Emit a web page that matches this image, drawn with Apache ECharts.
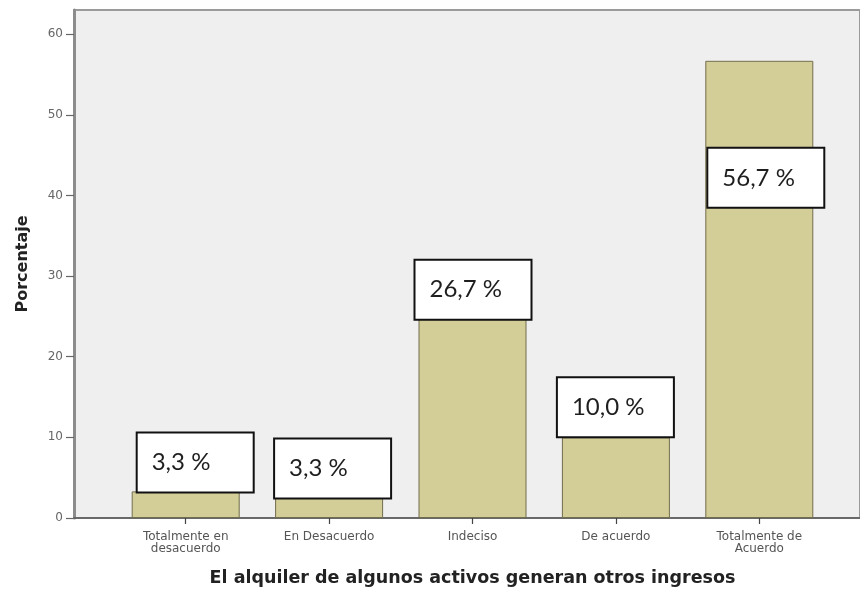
<!DOCTYPE html>
<html>
<head>
<meta charset="utf-8">
<script src="https://cdn.jsdelivr.net/npm/echarts@6/dist/echarts.min.js"></script>
<style>
  html, body { margin: 0; padding: 0; background: #fff; }
  #chart { width: 860px; height: 592px; }
</style>
</head>
<body>
<div id="chart"></div>
<script>
// data
var categories = ['Totalmente en\ndesacuerdo', 'En Desacuerdo', 'Indeciso', 'De acuerdo', 'Totalmente de\nAcuerdo'];
var percents = [3.3, 3.3, 26.7, 10.0, 56.7];
var yTicks = [0, 10, 20, 30, 40, 50, 60];

// label boxes were placed by hand in the original, so each one gets its own nudge
var labelShift = [[-48, -29], [-54, -23], [-57, -13], [-58, -30], [-51, 117]];

var chart = echarts.init(document.getElementById('chart'));

var barData = percents.map(function (v, i) {
  return {
    value: v,
    label: { offset: labelShift[i] }
  };
});

var option = {
  animation: false,
  grid: [
    // grey plotting box, wider than the bars
    { left: 74, top: 10, right: -10, bottom: 74, show: true,
      backgroundColor: '#efefef', borderColor: '#9a9a9a', borderWidth: 2 },
    // bars
    { left: 114, top: 10, right: 29, bottom: 74 }
  ],
  xAxis: [
    {
      gridIndex: 0, type: 'value', min: 0, max: 1,
      axisLine: { show: true, onZero: false, lineStyle: { color: '#5a5a5a', width: 1.5 } },
      axisTick: { show: false }, axisLabel: { show: false }, splitLine: { show: false }
    },
    {
      gridIndex: 1, type: 'category', data: categories,
      axisLine: { show: false },
      axisTick: { show: true, alignWithLabel: true, length: 6, lineStyle: { color: '#444', width: 1.2 } },
      axisLabel: { fontFamily: 'DejaVu Sans', fontSize: 12, color: '#555', margin: 13, lineHeight: 12 },
      name: 'El alquiler de algunos activos generan otros ingresos',
      nameLocation: 'middle', nameGap: 51,
      nameTextStyle: { fontFamily: 'DejaVu Sans', fontWeight: 'bold', fontSize: 17.5, color: '#222' }
    }
  ],
  yAxis: [
    {
      gridIndex: 0, type: 'value', min: 0, max: 63,
      axisLine: { show: true, lineStyle: { color: '#8c8c8c', width: 3 } },
      axisTick: { show: true, length: 8, customValues: yTicks, lineStyle: { color: '#666', width: 1.2 } },
      axisLabel: { customValues: yTicks, fontFamily: 'DejaVu Sans', fontSize: 12, color: '#666', margin: 11 },
      splitLine: { show: false },
      name: 'Porcentaje', nameLocation: 'middle', nameGap: 43,
      nameTextStyle: { fontFamily: 'DejaVu Sans', fontWeight: 'bold', fontSize: 16, color: '#222' }
    },
    {
      gridIndex: 1, type: 'value', min: 0, max: 63, show: false
    }
  ],
  series: [{
    type: 'bar',
    xAxisIndex: 1,
    yAxisIndex: 1,
    barWidth: 108,
    data: barData,
    itemStyle: { color: '#d3cd98', borderColor: '#726d4c', borderWidth: 1 },
    label: {
      show: true,
      position: 'top',
      distance: 0,
      formatter: function (p) {
        return p.value.toFixed(1).replace('.', ',') + ' %';
      },
      fontFamily: 'Lato',
      fontSize: 24,
      color: '#1e1e1e',
      backgroundColor: '#fff',
      borderColor: '#111',
      borderWidth: 2,
      width: 101,
      height: 54,
      padding: [0, 0, 4, 14],
      align: 'left',
      verticalAlign: 'middle'
    }
  }]
};

chart.setOption(option);
</script>
</body>
</html>
